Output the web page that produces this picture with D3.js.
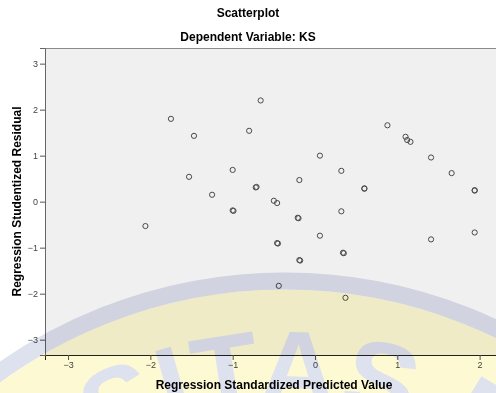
<!DOCTYPE html>
<html>
<head>
<meta charset="utf-8">
<script src="https://cdn.jsdelivr.net/npm/d3@7"></script>
<style>
  body { margin: 0; background: #fff; }
  text { font-family: "Liberation Sans", Arial, sans-serif; }
</style>
</head>
<body>
<div id="chart"></div>
<script>
// Regression Standardized Predicted Value (x) / Studentized Residual (y)
const predicted = [-2.06, -1.75, -1.47, -1.53, -1.25, -1.00, -1.00, -0.99, -0.80, -0.66,
  -0.72, -0.71, -0.50, -0.46, -0.46, -0.45, -0.44, -0.21, -0.20, -0.19, -0.19, -0.18,
  0.06, 0.06, 0.32, 0.32, 0.34, 0.35, 0.37, 0.60, 0.60, 0.88, 1.10, 1.12, 1.16,
  1.41, 1.41, 1.66, 1.94, 1.94, 1.94];
const residual = [-0.53, 1.80, 1.43, 0.54, 0.15, 0.69, -0.19, -0.20, 1.54, 2.20,
  0.31, 0.32, 0.02, -0.03, -0.90, -0.91, -1.83, -0.35, -0.36, 0.47, -1.27, -1.28,
  1.00, -0.74, 0.67, -0.21, -1.11, -1.12, -2.09, 0.28, 0.29, 1.66, 1.41, 1.34, 1.30,
  0.96, -0.82, 0.62, 0.24, 0.25, -0.67];
const xTicks = [-3, -2, -1, 0, 1, 2];
const yTicks = [-3, -2, -1, 0, 1, 2, 3];

const width = 496, height = 393;
const plot = { left: 45, top: 48, right: 503, bottom: 355 };

const svg = d3.select('#chart')
  .append('svg')
  .attr('width', width)
  .attr('height', height);

const x = d3.scaleLinear()
  .domain([-3.28, 2.284])
  .range([plot.left, plot.right]);

const y = d3.scaleLinear()
  .domain([-3.333, 3.34])
  .range([plot.bottom, plot.top]);

// Titles
svg.append('text')
  .attr('x', 248).attr('y', 17)
  .attr('text-anchor', 'middle')
  .style('font-size', '12px').style('font-weight', 'bold')
  .text('Scatterplot');

svg.append('text')
  .attr('x', 248).attr('y', 41)
  .attr('text-anchor', 'middle')
  .style('font-size', '12px').style('font-weight', 'bold')
  .text('Dependent Variable: KS');

// Plot background and frame
svg.append('rect')
  .attr('x', plot.left).attr('y', plot.top)
  .attr('width', plot.right - plot.left).attr('height', plot.bottom - plot.top)
  .attr('fill', '#f0f0f0');

svg.append('line')
  .attr('x1', plot.left).attr('x2', plot.right)
  .attr('y1', plot.top + 0.5).attr('y2', plot.top + 0.5)
  .attr('stroke', '#8a8a8a');

// Axes
const xAxis = svg.append('g')
  .attr('transform', `translate(0,${plot.bottom})`)
  .call(d3.axisBottom(x).tickValues(xTicks).tickSize(5).tickPadding(2).tickFormat(d3.format('d')));

const yAxis = svg.append('g')
  .attr('transform', `translate(${plot.left},0)`)
  .call(d3.axisLeft(y).tickValues(yTicks).tickSize(5).tickPadding(2).tickFormat(d3.format('d')));

xAxis.select('.domain').attr('stroke', '#222');
yAxis.select('.domain').attr('stroke', '#666');
[xAxis, yAxis].forEach(g => {
  g.selectAll('.tick line').attr('stroke', '#555');
  g.selectAll('.tick text')
    .attr('fill', '#444')
    .style('font-size', '9px')
    .style('font-family', '"Liberation Sans", Arial, sans-serif');
});

svg.append('text')
  .attr('x', 274).attr('y', 389)
  .attr('text-anchor', 'middle')
  .style('font-size', '12px').style('font-weight', 'bold')
  .text('Regression Standardized Predicted Value');

svg.append('text')
  .attr('transform', `translate(21,${(plot.top + plot.bottom) / 2}) rotate(-90)`)
  .attr('text-anchor', 'middle')
  .style('font-size', '12px').style('font-weight', 'bold')
  .text('Regression Studentized Residual');

// Points
svg.append('g')
  .selectAll('circle')
  .data(predicted.map((p, i) => ({ p: p, r: residual[i] })))
  .enter().append('circle')
  .attr('cx', d => x(d.p))
  .attr('cy', d => y(d.r))
  .attr('r', 2.6)
  .attr('fill', 'none')
  .attr('stroke', '#4a4a4a')
  .attr('stroke-width', 1);

// Watermark seal, multiplied over the page
const wm = { cx: 285, cy: 772.5, inner: 483, band: 17, textR: 365 };
svg.append('defs').append('path')
  .attr('id', 'wmArc')
  .attr('d', `M${wm.cx - wm.textR},${wm.cy} A${wm.textR},${wm.textR} 0 0 1 ${wm.cx + wm.textR},${wm.cy}`);

const wmG = svg.append('g')
  .style('mix-blend-mode', 'multiply')
  .style('isolation', 'isolate')
  .style('pointer-events', 'none');
wmG.append('circle')
  .attr('cx', wm.cx).attr('cy', wm.cy).attr('r', wm.inner)
  .attr('fill', '#fdfad3');
wmG.append('circle')
  .attr('cx', wm.cx).attr('cy', wm.cy).attr('r', wm.inner + wm.band / 2)
  .attr('fill', 'none')
  .attr('stroke', '#dee1ee')
  .attr('stroke-width', wm.band);

const wmText = wmG.append('text')
  .attr('fill', '#dee1ee')
  .style('font-size', '110px').style('font-weight', 'bold');
wmText.append('textPath')
  .attr('href', '#wmArc')
  .attr('startOffset', 698)
  .attr('text-anchor', 'end')
  .text('UNIVERSITAS');
const wmText2 = wmG.append('text')
  .attr('fill', '#dee1ee')
  .style('font-size', '110px').style('font-weight', 'bold');
wmText2.append('textPath')
  .attr('href', '#wmArc')
  .attr('startOffset', 727)
  .text('MEDAN AREA');
</script>
</body>
</html>
